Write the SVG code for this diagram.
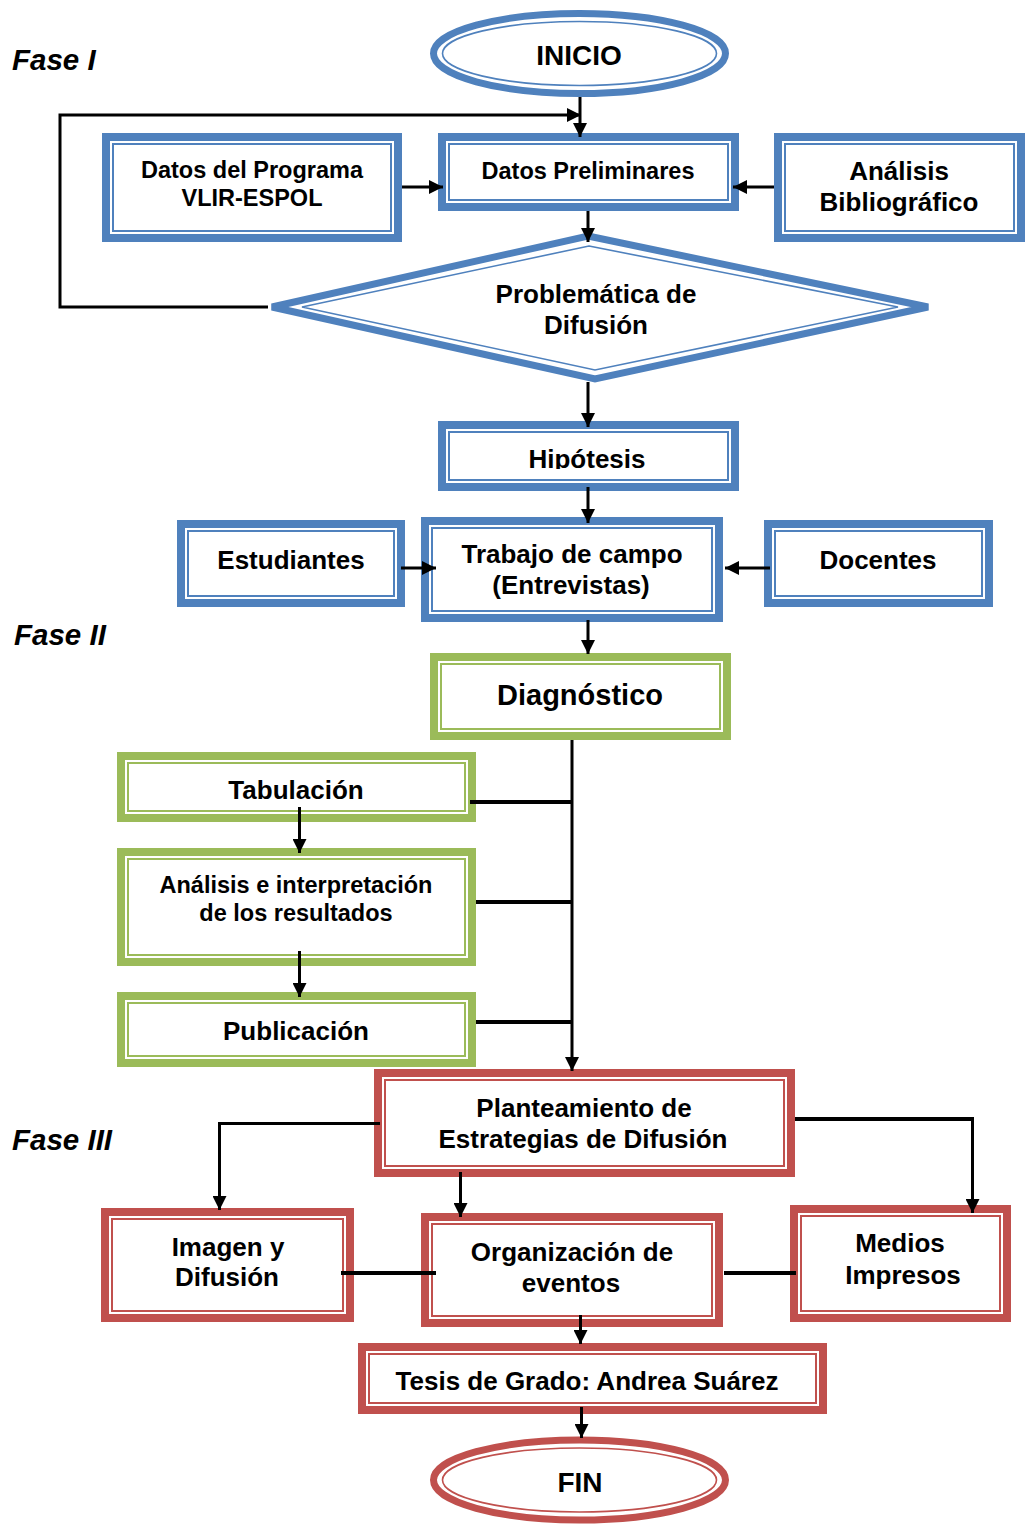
<svg xmlns="http://www.w3.org/2000/svg" width="1026" height="1524" viewBox="0 0 1026 1524">
<style>
.bo{fill:#fff;stroke-width:8}
.bi{fill:none;stroke-width:2}
.eo{fill:#fff;stroke-width:7}
.ei{fill:none;stroke-width:1.6}
.blue{stroke:#4F81BD}
.green{stroke:#9BBB59}
.red{stroke:#C0504D}
.t{font-family:"Liberation Sans",Arial,sans-serif;font-weight:bold;fill:#000;text-anchor:middle}
.f{font-family:"Liberation Sans",Arial,sans-serif;font-weight:bold;font-style:italic;fill:#000;font-size:29.5px}
.c{fill:none;stroke:#000;stroke-width:3}
.ca{fill:none;stroke:#000;stroke-width:3;marker-end:url(#ah)}
.ct{fill:none;stroke:#000;stroke-width:4}
</style>
<defs>
<marker id="ah" markerUnits="userSpaceOnUse" markerWidth="14" markerHeight="14" refX="14" refY="7" orient="auto">
<path d="M0,0 L14,7 L0,14 z" fill="#000"/>
</marker>
<clipPath id="hipclip"><rect x="440" y="425" width="300" height="44"/></clipPath>
</defs>
<rect width="1026" height="1524" fill="#fff"/>

<text class="f" x="12" y="70">Fase I</text>
<text class="f" x="14" y="645">Fase II</text>
<text class="f" x="12" y="1150">Fase III</text>

<g id="inicio">
<ellipse class="eo blue" cx="579.5" cy="53.5" rx="146" ry="40"/>
<ellipse class="ei blue" cx="579.5" cy="53.5" rx="137" ry="32"/>
<text class="t" x="579" y="65" font-size="28">INICIO</text>
</g>

<g id="datos-programa">
<rect class="bo blue" x="106" y="137" width="292" height="101"/>
<rect class="bi blue" x="113" y="144" width="278" height="87"/>
<text class="t" x="252" y="178" font-size="23.5">Datos del Programa</text>
<text class="t" x="252" y="206" font-size="23.5">VLIR-ESPOL</text>
</g>

<g id="datos-preliminares">
<rect class="bo blue" x="442" y="137" width="293" height="70"/>
<rect class="bi blue" x="449" y="144" width="279" height="56"/>
<text class="t" x="588" y="179" font-size="23.5">Datos Preliminares</text>
</g>

<g id="analisis-bibliografico">
<rect class="bo blue" x="778" y="137" width="243" height="101"/>
<rect class="bi blue" x="785" y="144" width="229" height="87"/>
<text class="t" x="899" y="180" font-size="26">Análisis</text>
<text class="t" x="899" y="211" font-size="26">Bibliográfico</text>
</g>

<g id="problematica">
<polygon class="eo blue" points="588,236 928,307 595,379 272,307"/>
<polygon class="ei blue" points="589,246 898,307 595,370 302,307"/>
<text class="t" x="596" y="303" font-size="26">Problemática de</text>
<text class="t" x="596" y="334" font-size="26">Difusión</text>
</g>

<g id="hipotesis">
<rect class="bo blue" x="442" y="425" width="293" height="62"/>
<rect class="bi blue" x="449" y="432" width="279" height="48"/>
<text class="t" x="587" y="468" font-size="26" clip-path="url(#hipclip)">Hipótesis</text>
</g>

<g id="estudiantes">
<rect class="bo blue" x="181" y="524" width="220" height="79"/>
<rect class="bi blue" x="188" y="531" width="206" height="65"/>
<text class="t" x="291" y="569" font-size="26">Estudiantes</text>
</g>

<g id="trabajo-campo">
<rect class="bo blue" x="425" y="521" width="294" height="97"/>
<rect class="bi blue" x="432" y="528" width="280" height="83"/>
<text class="t" x="572" y="563" font-size="26">Trabajo de campo</text>
<text class="t" x="571" y="594" font-size="26">(Entrevistas)</text>
</g>

<g id="docentes">
<rect class="bo blue" x="768" y="524" width="221" height="79"/>
<rect class="bi blue" x="775" y="531" width="207" height="65"/>
<text class="t" x="878" y="569" font-size="26">Docentes</text>
</g>

<g id="diagnostico">
<rect class="bo green" x="434" y="657" width="293" height="79"/>
<rect class="bi green" x="441" y="664" width="279" height="65"/>
<text class="t" x="580" y="705" font-size="29">Diagnóstico</text>
</g>

<g id="tabulacion">
<rect class="bo green" x="121" y="756" width="351" height="62"/>
<rect class="bi green" x="128" y="763" width="337" height="48"/>
<text class="t" x="296" y="799" font-size="26">Tabulación</text>
</g>

<g id="analisis-interpretacion">
<rect class="bo green" x="121" y="852" width="351" height="110"/>
<rect class="bi green" x="128" y="859" width="337" height="96"/>
<text class="t" x="296" y="893" font-size="23.5">Análisis e interpretación</text>
<text class="t" x="296" y="921" font-size="23.5">de los resultados</text>
</g>

<g id="publicacion">
<rect class="bo green" x="121" y="996" width="351" height="67"/>
<rect class="bi green" x="128" y="1003" width="337" height="53"/>
<text class="t" x="296" y="1040" font-size="26">Publicación</text>
</g>

<g id="planteamiento">
<rect class="bo red" x="378" y="1073" width="413" height="100"/>
<rect class="bi red" x="385" y="1080" width="399" height="86"/>
<text class="t" x="584" y="1117" font-size="26">Planteamiento de</text>
<text class="t" x="583" y="1148" font-size="26">Estrategias de Difusión</text>
</g>

<g id="imagen-difusion">
<rect class="bo red" x="105" y="1212" width="245" height="106"/>
<rect class="bi red" x="112" y="1219" width="231" height="92"/>
<text class="t" x="228" y="1256" font-size="26">Imagen y</text>
<text class="t" x="227" y="1286" font-size="26">Difusión</text>
</g>

<g id="organizacion-eventos">
<rect class="bo red" x="425" y="1217" width="294" height="106"/>
<rect class="bi red" x="432" y="1224" width="280" height="92"/>
<text class="t" x="572" y="1261" font-size="26">Organización de</text>
<text class="t" x="571" y="1292" font-size="26">eventos</text>
</g>

<g id="medios-impresos">
<rect class="bo red" x="794" y="1209" width="213" height="109"/>
<rect class="bi red" x="801" y="1216" width="199" height="95"/>
<text class="t" x="900" y="1252" font-size="26">Medios</text>
<text class="t" x="903" y="1284" font-size="26">Impresos</text>
</g>

<g id="tesis">
<rect class="bo red" x="362" y="1347" width="461" height="63"/>
<rect class="bi red" x="369" y="1354" width="447" height="49"/>
<text class="t" x="587" y="1390" font-size="26">Tesis de Grado: Andrea Suárez</text>
</g>

<g id="fin">
<ellipse class="eo red" cx="579.5" cy="1480" rx="146" ry="40"/>
<ellipse class="ei red" cx="579.5" cy="1480" rx="137" ry="32"/>
<text class="t" x="580" y="1492" font-size="28">FIN</text>
</g>

<g id="connectors">
<path class="ca" d="M580,97 V137"/>
<path class="ca" d="M268,307 H60 V115 H581"/>
<path class="ca" d="M402,187 H443"/>
<path class="ca" d="M774,187 H733"/>
<path class="ca" d="M588,211 V242"/>
<path class="ca" d="M588,382 V427"/>
<path class="ca" d="M588,487 V523"/>
<path class="ca" d="M401,568 H436"/>
<path class="ca" d="M770,568 H725"/>
<path class="ca" d="M588,620 V654"/>
<path class="ca" d="M572,740 V1071"/>
<path class="ct" d="M470,802 H572"/>
<path class="ct" d="M476,902 H572"/>
<path class="ct" d="M476,1022 H572"/>
<path class="ca" d="M299.5,807 V853"/>
<path class="ca" d="M299.5,951 V997"/>
<path class="ca" d="M380,1123.5 H219.5 V1210"/>
<path class="ct" d="M795,1119 H972.5"/>
<path class="ca" d="M972.5,1117 V1213"/>
<path class="ca" d="M460.5,1172 V1217"/>
<path class="ct" d="M341,1273 H436"/>
<path class="ct" d="M724,1273 H796"/>
<path class="ca" d="M580.5,1315 V1344"/>
<path class="ca" d="M581.5,1407 V1438"/>
</g>
</svg>
